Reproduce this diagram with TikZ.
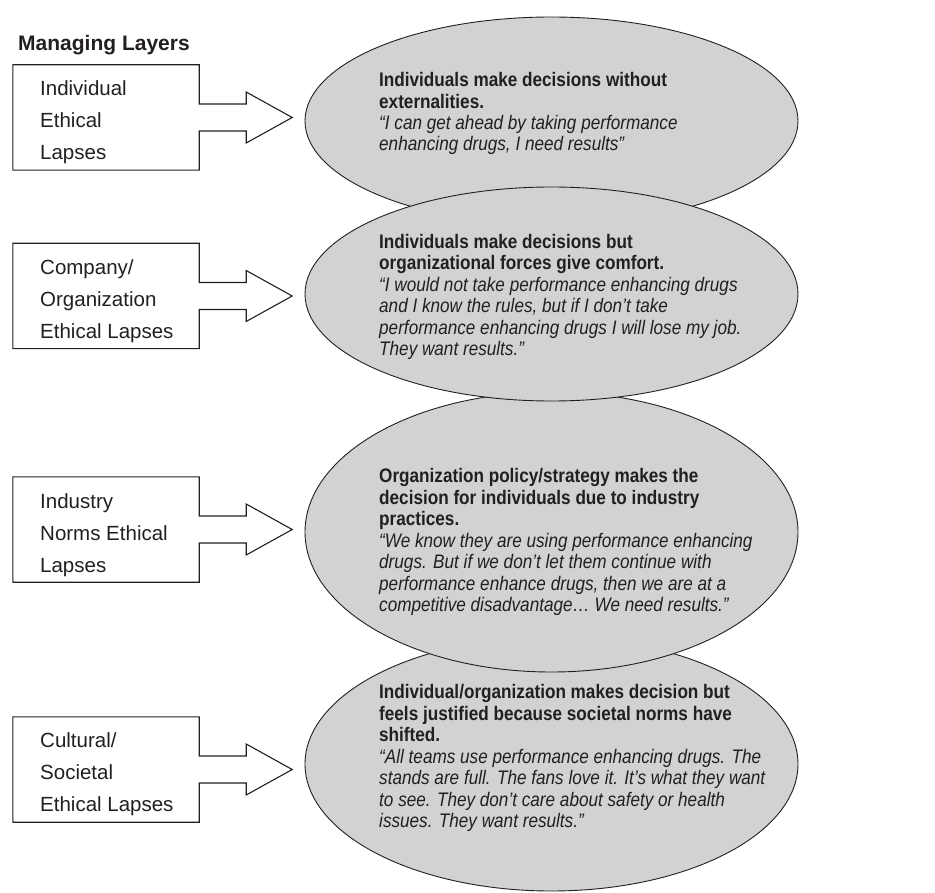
\documentclass[tikz,border=0pt]{standalone}
\usepackage{fontspec}
\setmainfont{Liberation Sans}
\newfontfamily\condfont[FakeStretch=0.875]{Liberation Sans}
\usetikzlibrary{shapes.geometric,calc}
\definecolor{ink}{HTML}{231F20}
\definecolor{ellfill}{HTML}{D1D2D4}
\tikzset{
  ellnode/.style={ellipse, draw=ink, fill=ellfill, line width=0.9pt, inner sep=0pt, minimum width=493pt},
  elltext/.style={anchor=base west, align=left, inner sep=0pt, text=ink, font=\condfont\fontsize{19.6}{21.45}\selectfont},
  boxnode/.style={rectangle, inner sep=0pt, minimum width=186pt, minimum height=105pt},
  boxtext/.style={anchor=base west, align=left, inner sep=0pt, text=ink, font=\fontsize{20.5}{32}\selectfont},
  outl/.style={draw=ink, line width=1.1pt, line join=miter},
}
\begin{document}
\begin{tikzpicture}[x=1pt,y=-1pt]
\useasboundingbox (0,0) rectangle (935,893);

% title
\node[anchor=base west, inner sep=0pt, text=ink, font=\bfseries\fontsize{21}{25}\selectfont] (title) at (18,51) {Managing Layers};

% ellipses (drawing order gives the overlaps)
\node[ellnode, minimum height=208pt] (e1) at (551.5,121) {};
\node[ellnode, minimum height=254pt] (e4) at (551.5,764) {};
\node[ellnode, minimum height=280pt] (e3) at (551.5,532) {};
\node[ellnode, minimum height=214pt] (e2) at (551.5,294) {};

% ellipse texts (anchored at the baseline of their last line)
\node[elltext] (t1) at (379,151) {\textbf{Individuals make decisions without}\\
\textbf{externalities.}\\
\textit{“I can get ahead by taking performance}\\
\textit{enhancing drugs, I need results”}};

\node[elltext] (t2) at (379,355.5) {\textbf{Individuals make decisions but}\\
\textbf{organizational forces give comfort.}\\
\textit{“I would not take performance enhancing drugs}\\
\textit{and I know the rules, but if I don’t take}\\
\textit{performance enhancing drugs I will lose my job.}\\
\textit{They want results.”}};

\node[elltext] (t3) at (379,611.5) {\textbf{Organization policy/strategy makes the}\\
\textbf{decision for individuals due to industry}\\
\textbf{practices.}\\
\textit{“We know they are using performance enhancing}\\
\textit{drugs. But if we don’t let them continue with}\\
\textit{performance enhance drugs, then we are at a}\\
\textit{competitive disadvantage… We need results.”}};

\node[elltext] (t4) at (379,827.5) {\textbf{Individual/organization makes decision but}\\
\textbf{feels justified because societal norms have}\\
\textbf{shifted.}\\
\textit{“All teams use performance enhancing drugs. The}\\
\textit{stands are full. The fans love it. It’s what they want}\\
\textit{to see. They don’t care about safety or health}\\
\textit{issues. They want results.”}};

% boxes
\node[boxnode] (b1) at (106,117.5) {};
\node[boxnode] (b2) at (106,296) {};
\node[boxnode] (b3) at (106,529.5) {};
\node[boxnode] (b4) at (106,769.5) {};

\node[boxtext] (l1) at (40,160) {Individual\\Ethical\\Lapses};
\node[boxtext] (l2) at (40,339) {Company/\\Organization\\Ethical Lapses};
\node[boxtext] (l3) at (40,572) {Industry\\Norms Ethical\\Lapses};
\node[boxtext] (l4) at (40,811) {Cultural/\\Societal\\Ethical Lapses};

% box outlines merged with block arrows pointing at the ellipses
\foreach \b/\e in {b1/e1,b2/e2,b3/e3,b4/e4}{
  \draw[outl] (\b.north west) -- (\b.north east) -- ($(\b.east)+(0,-13.5)$)
    -- ++(47,0) -- ++(0,-12) -- ($(\b.east)+(93,0)$) -- ($(\b.east)+(47,25.5)$)
    -- ++(0,-12) -- ++(-47,0) -- (\b.south east) -- (\b.south west) -- cycle;
}
\end{tikzpicture}
\end{document}
